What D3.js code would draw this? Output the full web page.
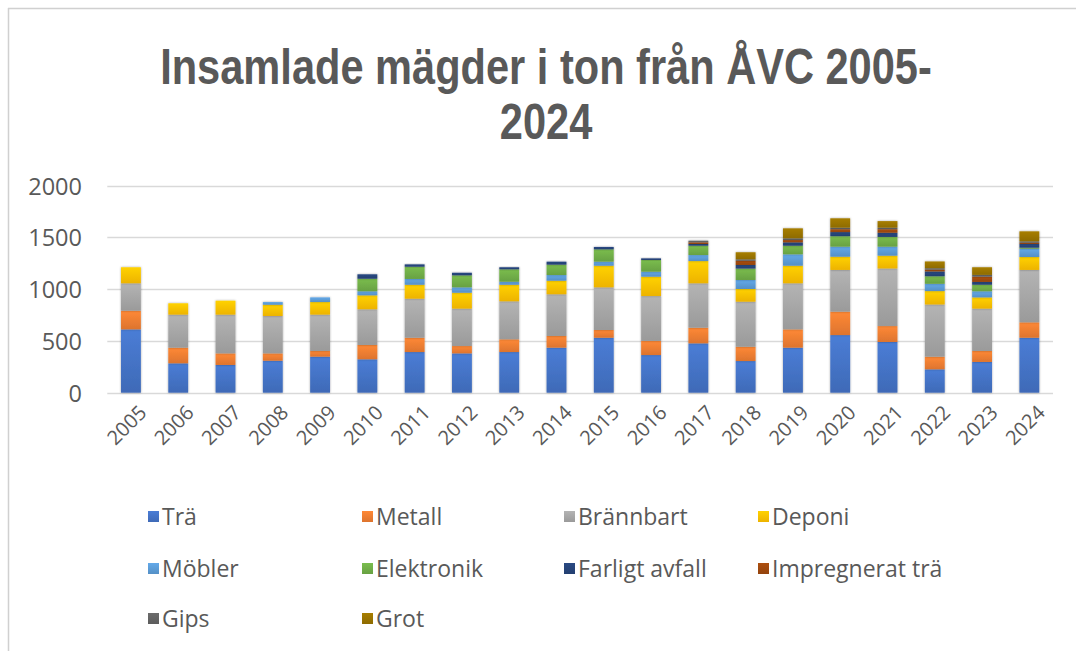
<!DOCTYPE html>
<html>
<head>
<meta charset="utf-8">
<script src="https://cdn.jsdelivr.net/npm/d3@7"></script>
<style>
  html, body { margin: 0; padding: 0; background: #ffffff; }
  svg { display: block; }
</style>
</head>
<body>
<svg id="chart" width="1076" height="651"></svg>
<script>
// ---- DATA ----
const years = ["2005","2006","2007","2008","2009","2010","2011","2012","2013","2014",
               "2015","2016","2017","2018","2019","2020","2021","2022","2023","2024"];
const seriesNames = ["Trä","Metall","Brännbart","Deponi","Möbler","Elektronik",
                     "Farligt avfall","Impregnerat trä","Gips","Grot"];
const tra         = [612,284,268,309,348,323,393,380,393,435,531,364,477,306,435,557,490,226,297,531];
const metall      = [180,151,112, 71, 55,138,138, 71,123,113, 75,136,151,138,177,226,154,122,106,149];
const brannbart   = [265,319,374,361,351,345,377,361,367,403,412,434,429,435,445,403,556,504,409,506];
const deponi      = [155,110,135,109,122,135,135,154,160,131,209,187,215,123,170,128,124,130,109,125];
const mobler      = [  0,  0,  0, 26, 45, 39, 56, 52, 29, 55, 39, 48, 58, 87,110, 97, 87, 70, 59, 80];
const elektronik  = [  0,  0,  0,  0,  0,121,118,116,120,100,119,113, 90,110, 83,101, 94, 73, 63, 10];
const farligt     = [  0,  0,  0,  0,  0, 43, 23, 25, 20, 29, 23, 16, 17, 35, 33, 40, 40, 47, 27, 36];
const impregnerat = [  0,  0,  0,  0,  0,  0,  0,  0,  0,  0,  0,  0, 16, 41, 22, 28, 35, 17, 51, 12];
const gips        = [  0,  0,  0,  0,  0,  0,  0,  0,  0,  0,  0,  0, 16, 14, 17, 14, 14, 14, 17, 14];
const grot        = [  0,  0,  0,  0,  0,  0,  0,  0,  0,  0,  0,  0,  0, 68, 96, 91, 64, 65, 74, 96];
const yTicks = [0, 500, 1000, 1500, 2000];
const titleLines = ["Insamlade mägder i ton från ÅVC 2005-", "2024"];

const seriesValues = [tra, metall, brannbart, deponi, mobler, elektronik, farligt, impregnerat, gips, grot];
const colors = ["#4472C4","#ED7D31","#A5A5A5","#FFC000","#5B9BD5","#70AD47",
                "#264478","#9E480E","#636363","#997300"];

// table for d3.stack
const table = years.map((y, i) => {
  const row = { year: y };
  seriesNames.forEach((s, k) => row[s] = seriesValues[k][i]);
  return row;
});

const svg = d3.select("#chart");
const textColor = "#595959";
const fontFam = "'Open Sans', 'Noto Sans', sans-serif";

// frame
svg.append("line").attr("x1", 8.5).attr("x2", 8.5).attr("y1", 8).attr("y2", 651)
  .attr("stroke", "#d0d0d0").attr("stroke-width", 1.5);
svg.append("line").attr("x1", 8).attr("x2", 1076).attr("y1", 8.5).attr("y2", 8.5)
  .attr("stroke", "#d0d0d0").attr("stroke-width", 1.5);

// defs: gradients + shadow
const defs = svg.append("defs");
colors.forEach((c, i) => {
  const g = defs.append("linearGradient").attr("id", "grad" + i)
    .attr("x1", 0).attr("y1", 0).attr("x2", 0).attr("y2", 1);
  g.append("stop").attr("offset", "0%").attr("stop-color", d3.color(c).brighter(0.25).formatHex());
  g.append("stop").attr("offset", "100%").attr("stop-color", d3.color(c).darker(0.2).formatHex());
});
const f = defs.append("filter").attr("id", "shadow")
  .attr("x", "-50%").attr("y", "-50%").attr("width", "200%").attr("height", "200%");
f.append("feDropShadow").attr("dx", 0).attr("dy", 0).attr("stdDeviation", 1.3)
  .attr("flood-color", "#000").attr("flood-opacity", 0.35);

// title (bold, horizontally condensed to the reference's line width)
const titleG = svg.append("g");
const titleRows = titleG.selectAll("g").data(titleLines).join("g");
const titleTexts = titleRows.append("text")
  .attr("x", 0).attr("y", 0)
  .attr("text-anchor", "middle")
  .attr("font-family", "'Liberation Sans Narrow', 'Liberation Sans', sans-serif")
  .attr("font-weight", "bold").attr("font-size", 50)
  .attr("fill", textColor).text(d => d);
const w0 = titleTexts.nodes()[0].getComputedTextLength();
const sx = Math.min(1, 772 / w0);
titleRows.attr("transform", (d, i) => `translate(546,${84 + i * 55}) scale(${sx},1)`);

// scales
const plotLeft = 107.3, plotRight = 1053;
const x = d3.scaleBand().domain(years).range([plotLeft, plotRight]).paddingInner(0.58).paddingOuter(0.29);
const y = d3.scaleLinear().domain([0, 2000]).range([392.7, 185.7]);

// gridlines
svg.append("g").selectAll("line").data(yTicks).join("line")
  .attr("x1", plotLeft).attr("x2", plotRight)
  .attr("y1", d => Math.round(y(d)) + 0.5).attr("y2", d => Math.round(y(d)) + 0.5)
  .attr("stroke", "#d9d9d9").attr("stroke-width", 1.5);

// y axis labels
const yAxis = d3.axisLeft(y).tickValues(yTicks).tickFormat(d3.format("d")).tickSize(0).tickPadding(0);
const yg = svg.append("g").attr("transform", "translate(82,0)").call(yAxis);
yg.select(".domain").remove();
yg.selectAll("text").attr("font-family", fontFam).attr("font-size", 23.5)
  .attr("fill", textColor).attr("dy", "0.36em");

// stacked bars
const stack = d3.stack().keys(seriesNames);
const stacked = stack(table);
svg.append("g").selectAll("g").data(stacked).join("g")
  .attr("fill", (d, i) => "url(#grad" + i + ")")
  .selectAll("rect").data(d => d.filter(p => p[1] - p[0] > 0)).join("rect")
  .attr("x", d => x(d.data.year))
  .attr("width", x.bandwidth())
  .attr("y", d => y(d[1]))
  .attr("height", d => y(d[0]) - y(d[1]))
  .attr("filter", "url(#shadow)");

// x axis labels
const xAxis = d3.axisBottom(x).tickSize(0).tickPadding(0);
const xg = svg.append("g").attr("transform", "translate(0,404)").call(xAxis);
xg.select(".domain").remove();
xg.selectAll("text")
  .attr("font-family", fontFam).attr("font-size", 20).attr("fill", textColor)
  .attr("text-anchor", "end")
  .attr("transform", "translate(7,0) rotate(-45)")
  .attr("dy", "0.7em").attr("dx", "0");

// legend
const legCols = [162, 376, 578, 772];
const legRows = [517, 569, 619];
const leg = svg.append("g").selectAll("g").data(seriesNames).join("g")
  .attr("transform", (d, i) => `translate(${legCols[i % 4]},${legRows[Math.floor(i / 4)]})`);
leg.append("rect").attr("x", -14).attr("y", -6).attr("width", 11).attr("height", 11)
  .attr("fill", (d, i) => "url(#grad" + i + ")");
leg.append("text").attr("x", 0).attr("y", 0).attr("dy", "0.36em")
  .attr("font-family", fontFam).attr("font-size", 23).attr("fill", textColor)
  .text(d => d);
</script>
</body>
</html>
